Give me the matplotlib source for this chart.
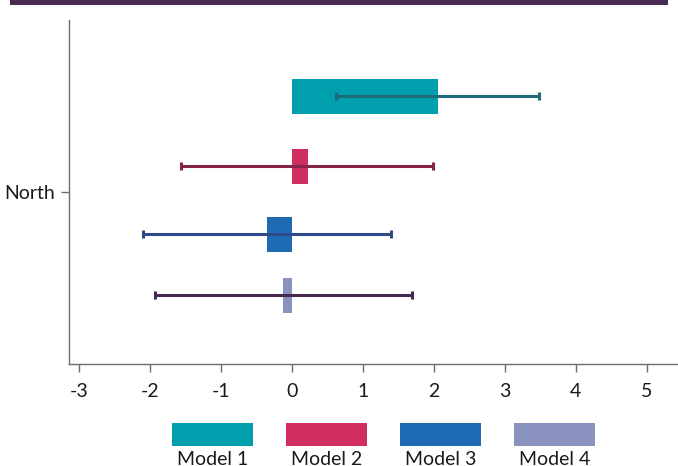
import matplotlib.pyplot as plt
from matplotlib.patches import Rectangle

# data
category = "North"
models = ["Model 1", "Model 2", "Model 3", "Model 4"]
estimates = [2.06, 0.23, -0.35, -0.12]
ci_low = [0.62, -1.56, -2.10, -1.93]
ci_high = [3.48, 1.99, 1.40, 1.69]
xticks = [-3, -2, -1, 0, 1, 2, 3, 4, 5]

bar_colors = ["#009fae", "#d12e60", "#1f6bb3", "#8a93bf"]
err_colors = ["#1b6b7b", "#862347", "#2c4a88", "#45294f"]
offsets = [-0.96, -0.26, 0.42, 1.03]   # vertical slot of each model around the category

plt.rcParams['font.family'] = ['Lato', 'DejaVu Sans']
plt.rcParams['font.size'] = 14

fig = plt.figure(figsize=(6.78, 4.66), dpi=100)
ax = fig.add_axes([69 / 678, (466 - 364) / 466, (678 - 69) / 678, (364 - 20) / 466])

for i, m in enumerate(models):
    y = offsets[i]
    ax.barh(y, estimates[i], height=0.35, color=bar_colors[i], zorder=2)
    ax.errorbar(estimates[i], y,
                xerr=[[estimates[i] - ci_low[i]], [ci_high[i] - estimates[i]]],
                fmt="none", ecolor=err_colors[i], elinewidth=2.2,
                capsize=3, capthick=2.2, zorder=3)

ax.set_xlim(-3.14, 5.44)
ax.set_ylim(1.72, -1.72)
ax.set_xticks(xticks)
ax.set_xticklabels([str(t) for t in xticks])
ax.set_yticks([0])
ax.set_yticklabels([category])

for s in ["top", "right"]:
    ax.spines[s].set_visible(False)
for s in ["left", "bottom"]:
    ax.spines[s].set_color("#6b6b6b")
    ax.spines[s].set_linewidth(1.0)
ax.tick_params(axis="both", colors="#6b6b6b", length=6, width=1, labelcolor="#1a1a1a")
ax.tick_params(axis="x", pad=8)
ax.tick_params(axis="y", pad=4)

# dark band across the top
fig.add_artist(Rectangle((9.5 / 678, 1 - 5 / 466), (668 - 9.5) / 678, 5 / 466,
                         transform=fig.transFigure, color="#4a2b52", lw=0))

# legend laid out by hand under the axis
for i, m in enumerate(models):
    x0 = 172 + i * 114
    fig.add_artist(Rectangle((x0 / 678, (466 - 446) / 466), 81 / 678, 23 / 466,
                             transform=fig.transFigure, color=bar_colors[i], lw=0))
    fig.text((x0 + 40.5) / 678, (466 - 451) / 466, m, ha="center", va="top",
             color="#1a1a1a", fontsize=14)

fig.savefig("out.png", dpi=100)
